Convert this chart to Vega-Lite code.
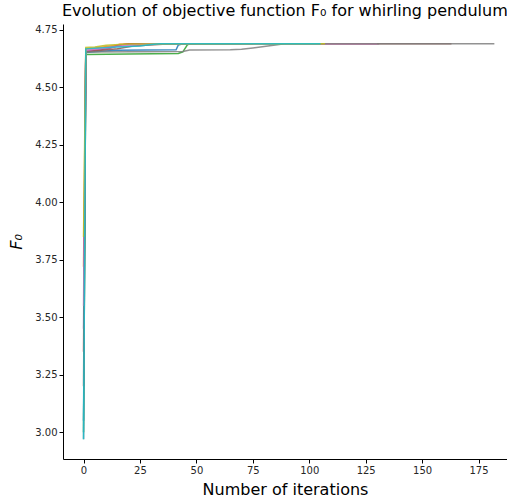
{
  "$schema": "https://vega.github.io/schema/vega-lite/v6.json",
  "autosize": "none",
  "width": 444,
  "height": 435,
  "padding": {"left": 63, "top": 24, "right": 0, "bottom": 43},
  "background": "white",
  "config": {
    "view": {"stroke": null},
    "font": "DejaVu Sans",
    "axis": {"grid": false, "domainColor": "#000000", "tickColor": "#000000", "labelColor": "#262626", "labelFontSize": 10, "labelFont": "DejaVu Sans", "tickSize": 4, "titleFont": "DejaVu Sans", "titleFontWeight": "normal", "titleFontSize": 16, "titleColor": "#000000"}
  },
  "title": {"text": "Evolution of objective function F₀ for whirling pendulum", "anchor": "start", "frame": "group", "fontSize": 16, "dx": -1, "fontWeight": "normal", "font": "DejaVu Sans", "color": "#000000", "offset": 5},
  "data": {"values": [
    {"run": "r0", "it": 0, "f": 3.05}, {"run": "r0", "it": 1, "f": 4.652}, {"run": "r0", "it": 8, "f": 4.658}, {"run": "r0", "it": 15, "f": 4.662}, {"run": "r0", "it": 41, "f": 4.664}, {"run": "r0", "it": 42, "f": 4.685}, {"run": "r0", "it": 44, "f": 4.69}, {"run": "r0", "it": 70, "f": 4.69},
    {"run": "r1", "it": 0, "f": 3.72}, {"run": "r1", "it": 1, "f": 4.668}, {"run": "r1", "it": 5, "f": 4.672}, {"run": "r1", "it": 14, "f": 4.682}, {"run": "r1", "it": 16, "f": 4.688}, {"run": "r1", "it": 25, "f": 4.69}, {"run": "r1", "it": 55, "f": 4.69},
    {"run": "r2", "it": 0, "f": 3.0}, {"run": "r2", "it": 1, "f": 4.643}, {"run": "r2", "it": 20, "f": 4.645}, {"run": "r2", "it": 42, "f": 4.648}, {"run": "r2", "it": 44, "f": 4.655}, {"run": "r2", "it": 46, "f": 4.685}, {"run": "r2", "it": 47, "f": 4.69}, {"run": "r2", "it": 75, "f": 4.69},
    {"run": "r3", "it": 0, "f": 3.35}, {"run": "r3", "it": 1, "f": 4.658}, {"run": "r3", "it": 10, "f": 4.668}, {"run": "r3", "it": 16, "f": 4.684}, {"run": "r3", "it": 20, "f": 4.69}, {"run": "r3", "it": 50, "f": 4.69},
    {"run": "r4", "it": 0, "f": 3.45}, {"run": "r4", "it": 1, "f": 4.66}, {"run": "r4", "it": 12, "f": 4.672}, {"run": "r4", "it": 17, "f": 4.686}, {"run": "r4", "it": 30, "f": 4.69}, {"run": "r4", "it": 131, "f": 4.69},
    {"run": "r5", "it": 0, "f": 3.2}, {"run": "r5", "it": 1, "f": 4.655}, {"run": "r5", "it": 15, "f": 4.668}, {"run": "r5", "it": 22, "f": 4.68}, {"run": "r5", "it": 35, "f": 4.688}, {"run": "r5", "it": 40, "f": 4.69}, {"run": "r5", "it": 163, "f": 4.69},
    {"run": "r6", "it": 0, "f": 3.55}, {"run": "r6", "it": 1, "f": 4.662}, {"run": "r6", "it": 12, "f": 4.675}, {"run": "r6", "it": 20, "f": 4.684}, {"run": "r6", "it": 30, "f": 4.689}, {"run": "r6", "it": 38, "f": 4.69}, {"run": "r6", "it": 130, "f": 4.69},
    {"run": "r7", "it": 0, "f": 2.97}, {"run": "r7", "it": 1, "f": 4.654}, {"run": "r7", "it": 44, "f": 4.656}, {"run": "r7", "it": 47, "f": 4.663}, {"run": "r7", "it": 65, "f": 4.664}, {"run": "r7", "it": 70, "f": 4.666}, {"run": "r7", "it": 75, "f": 4.672}, {"run": "r7", "it": 85, "f": 4.685}, {"run": "r7", "it": 89, "f": 4.69}, {"run": "r7", "it": 182, "f": 4.69},
    {"run": "r8", "it": 0, "f": 3.85}, {"run": "r8", "it": 1, "f": 4.674}, {"run": "r8", "it": 5, "f": 4.676}, {"run": "r8", "it": 10, "f": 4.684}, {"run": "r8", "it": 20, "f": 4.689}, {"run": "r8", "it": 107, "f": 4.69},
    {"run": "r9", "it": 0, "f": 2.97}, {"run": "r9", "it": 1, "f": 4.668}, {"run": "r9", "it": 12, "f": 4.675}, {"run": "r9", "it": 25, "f": 4.68}, {"run": "r9", "it": 30, "f": 4.687}, {"run": "r9", "it": 34, "f": 4.69}, {"run": "r9", "it": 105, "f": 4.69}
  ]},
  "mark": {"type": "line", "strokeWidth": 1.5, "opacity": 0.85, "clip": true},
  "encoding": {
    "x": {"field": "it", "type": "quantitative", "scale": {"domain": [-9.1, 187.6], "nice": false, "zero": false},
      "axis": {"values": [0, 25, 50, 75, 100, 125, 150, 175], "title": "Number of iterations", "titlePadding": 6}},
    "y": {"field": "f", "type": "quantitative", "scale": {"domain": [2.884, 4.776], "nice": false, "zero": false},
      "axis": {"values": [3.0, 3.25, 3.5, 3.75, 4.0, 4.25, 4.5, 4.75], "format": ".2f", "title": "F₀", "titleFontStyle": "italic", "titlePadding": 10}},
    "color": {"field": "run", "type": "nominal", "legend": null,
      "scale": {"domain": ["r0","r1","r2","r3","r4","r5","r6","r7","r8","r9"], "range": ["#1f77b4","#ff7f0e","#2ca02c","#d62728","#9467bd","#8c564b","#e377c2","#7f7f7f","#bcbd22","#17becf"]}},
    "order": {"field": "it", "type": "quantitative"}
  }
}
